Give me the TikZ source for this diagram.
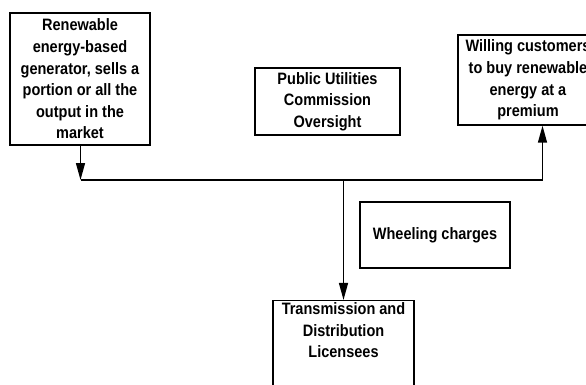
\documentclass[tikz,border=0pt]{standalone}
\usepackage{fontspec}
\setmainfont{Liberation Sans}[FakeStretch=0.88]
\usetikzlibrary{arrows.meta}

\tikzstyle{box} = [draw, line width=1.4pt, align=center, inner sep=2pt]
\tikzstyle{flow} = [line width=1.4pt]
\tikzstyle{every node}=[font=\fontsize{16.5}{21.6}\selectfont\bfseries]

\begin{document}
\begin{tikzpicture}[x=1pt, y=-1pt, >={Triangle[length=17pt,width=9pt]}]
  \useasboundingbox (0,0) rectangle (586,385);
  \node[box, minimum width=140pt, minimum height=132pt] (gen) at (80,79)
    {Renewable\\energy-based\\generator, sells a\\portion or all the\\output in the\\market};
  \node[box, minimum width=140pt, minimum height=90pt] (cust) at (528,80)
    {Willing customers\\to buy renewable\\energy at a\\premium};
  \node[box, minimum width=145pt, minimum height=67pt] (puc) at (327.5,101.5)
    {Public Utilities\\Commission\\Oversight};
  \node[box, minimum width=150pt, minimum height=66pt] (wheel) at (435,235)
    {Wheeling charges};
  \node[box, minimum width=141pt, minimum height=92pt] (tnd) at (343.5,348)
    {Transmission and\\Distribution\\Licensees\\[14pt]};
  % bus line
  \coordinate (j1) at (80.5,180);
  \coordinate (j2) at (542.5,180);
  \coordinate (j3) at (tnd.north |- j1);
  \draw[flow,->] (gen.south -| j1) -- (j1);
  \draw[flow] (j1) -- (j2);
  \draw[flow,->] (j2) -- (j2 |- cust.south);
  \draw[flow,->] (j3) -- (tnd.north);
\end{tikzpicture}
\end{document}
